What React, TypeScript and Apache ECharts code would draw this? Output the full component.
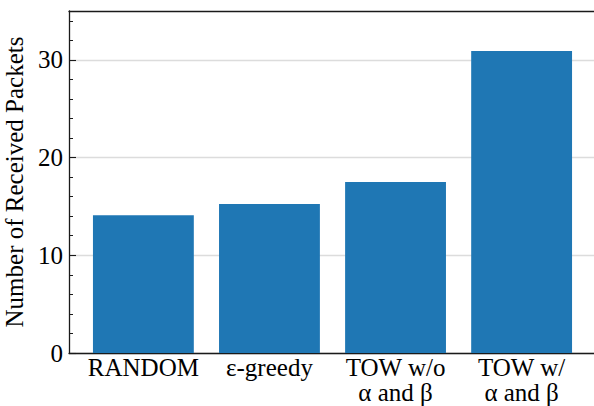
import React, { useEffect, useRef } from 'react';
import * as echarts from 'echarts';

const categories = ['RANDOM', 'ε-greedy', 'TOW w/o\nα and β', 'TOW w/\nα and β'];
const received = [14.1, 15.25, 17.5, 30.9];
const yMajorTicks = [0, 10, 20, 30];
const yMinorTicks = [2, 4, 6, 8, 12, 14, 16, 18, 22, 24, 26, 28, 32, 34];
const yLabel = 'Number of Received Packets';

const FONT = 'Liberation Serif';

export default function App() {
  const ref = useRef<HTMLDivElement>(null);
  useEffect(() => {
    if (!ref.current) return;
    const chart = echarts.init(ref.current, null, { renderer: 'svg' });
    const xMin = -0.59;
    const xMax = categories.length - 1 + 0.59;
    const gridLeft = 69;
    const gridWidth = 527;
    const barWidth = (0.8 * gridWidth) / (xMax - xMin);
    const axisLineStyle = { color: '#1a1a1a', width: 1.3 };
    const serifText = { fontFamily: FONT, fontSize: 25, lineHeight: 25, color: '#000' };
    chart.setOption({
      animation: false,
      backgroundColor: '#ffffff',
      textStyle: { fontFamily: FONT },
      grid: {
        left: gridLeft,
        top: 11,
        width: gridWidth,
        height: 342,
        containLabel: false,
        outerBoundsMode: 'none',
      },
      xAxis: [
        {
          type: 'value',
          min: xMin,
          max: xMax,
          axisLine: { show: true, onZero: false, lineStyle: axisLineStyle },
          axisTick: { show: false },
          splitLine: { show: false },
          axisLabel: {
            customValues: categories.map((_, i) => i),
            formatter: (v: number) =>
              (categories[Math.round(v)] ?? '')
                .split('\n')
                .map((line) => `{s|${line}}`)
                .join('\n'),
            rich: { s: serifText },
            ...serifText,
            margin: 2,
          },
        },
        {
          type: 'value',
          position: 'top',
          min: xMin,
          max: xMax,
          axisLine: { show: true, onZero: false, lineStyle: axisLineStyle },
          axisTick: { show: false },
          splitLine: { show: false },
          axisLabel: { show: false },
        },
      ],
      yAxis: [
        {
          type: 'value',
          min: 0,
          max: 35,
          interval: 10,
          name: yLabel,
          nameLocation: 'middle',
          nameGap: 33,
          nameTextStyle: { fontFamily: FONT, fontSize: 25, color: '#000' },
          axisLine: { show: true, onZero: false, lineStyle: axisLineStyle },
          axisTick: {
            show: true,
            inside: true,
            length: 7,
            customValues: yMajorTicks,
            lineStyle: { color: '#1a1a1a', width: 1.1 },
          },
          axisLabel: {
            customValues: yMajorTicks,
            fontFamily: FONT,
            fontSize: 25,
            color: '#000',
            margin: 6,
          },
          splitLine: { show: true, lineStyle: { color: '#dcdcdc', width: 1.3 } },
        },
        {
          type: 'value',
          min: 0,
          max: 35,
          position: 'left',
          axisLine: { show: false, onZero: false },
          axisTick: {
            show: true,
            inside: true,
            length: 4,
            customValues: yMinorTicks,
            lineStyle: { color: '#1a1a1a', width: 1 },
          },
          axisLabel: { show: false },
          splitLine: { show: false },
        },
      ],
      series: [
        {
          type: 'bar',
          xAxisIndex: 0,
          yAxisIndex: 0,
          barWidth,
          itemStyle: { color: '#1f77b4' },
          data: received.map((v, i) => [i, v]),
        },
      ],
    });
    return () => chart.dispose();
  }, []);
  return (
    <div
      ref={ref}
      style={{ position: 'fixed', left: 0, top: 0, width: 594, height: 406, background: '#fff' }}
    />
  );
}
